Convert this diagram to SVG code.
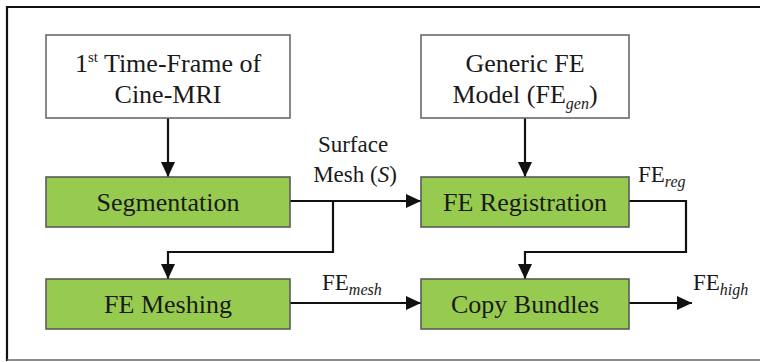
<svg xmlns="http://www.w3.org/2000/svg" width="760" height="362" viewBox="0 0 760 362">
<defs>
<style>
.box{fill:#ffffff;stroke:#6a6a6a;stroke-width:1.6}
.g{fill:#97cb4f;stroke:#5a5a5a;stroke-width:1.6}
.t{font-family:"Liberation Serif","Times New Roman",serif;font-size:26px;fill:#1a1a1a;text-anchor:middle}
.l{font-family:"Liberation Serif","Times New Roman",serif;font-size:23px;fill:#1a1a1a}
.sub{font-style:italic;font-size:16px}
.c{fill:none;stroke:#111;stroke-width:2.2}
</style>
<marker id="ah" markerUnits="userSpaceOnUse" markerWidth="16" markerHeight="14" refX="15" refY="7" orient="auto">
<path d="M0,0 L15,7 L0,14 Z" fill="#111"/>
</marker>
</defs>
<rect x="0" y="0" width="760" height="362" fill="#ffffff"/>
<path d="M7,361 L7,7 L760,7" fill="none" stroke="#111" stroke-width="2.2"/>
<line x1="7" y1="360" x2="760" y2="360" stroke="#666" stroke-width="1.5"/>

<g id="connectors">
<line class="c" x1="168" y1="118" x2="168" y2="177" marker-end="url(#ah)"/>
<line class="c" x1="525" y1="118" x2="525" y2="177" marker-end="url(#ah)"/>
<line class="c" x1="290" y1="201" x2="421" y2="201" marker-end="url(#ah)"/>
<polyline class="c" points="333,201 333,252 168,252 168,279" marker-end="url(#ah)"/>
<polyline class="c" points="629,201 686,201 686,252 525,252 525,279" marker-end="url(#ah)"/>
<line class="c" x1="290" y1="303" x2="421" y2="303" marker-end="url(#ah)"/>
<line class="c" x1="629" y1="303" x2="692" y2="303" marker-end="url(#ah)"/>
</g>

<g id="cine-mri">
<rect class="box" x="46" y="35" width="244" height="83"/>
<text class="t" x="168" y="72">1<tspan font-size="15" dy="-10">st</tspan><tspan dy="10"> Time-Frame of</tspan></text>
<text class="t" x="168" y="103">Cine-MRI</text>
</g>

<g id="generic-fe">
<rect class="box" x="421" y="35" width="208" height="83"/>
<text class="t" x="525" y="72">Generic FE</text>
<text class="t" x="525" y="103">Model (FE<tspan class="sub" font-size="18" dy="6">gen</tspan><tspan dy="-6">)</tspan></text>
</g>

<g id="segmentation">
<rect class="g" x="46" y="177" width="244" height="50"/>
<text class="t" x="168" y="211">Segmentation</text>
</g>

<g id="fe-registration">
<rect class="g" x="421" y="177" width="208" height="50"/>
<text class="t" x="525" y="211">FE Registration</text>
</g>

<g id="fe-meshing">
<rect class="g" x="46" y="279" width="244" height="50"/>
<text class="t" x="168" y="313">FE Meshing</text>
</g>

<g id="copy-bundles">
<rect class="g" x="421" y="279" width="208" height="50"/>
<text class="t" x="525" y="313">Copy Bundles</text>
</g>

<g id="labels">
<text class="l" x="353" y="152" text-anchor="middle">Surface</text>
<text class="l" x="355" y="182" text-anchor="middle">Mesh (<tspan font-style="italic">S</tspan>)</text>
<text class="l" x="638" y="182">FE<tspan class="sub" dy="5">reg</tspan></text>
<text class="l" x="322" y="290">FE<tspan class="sub" dy="5">mesh</tspan></text>
<text class="l" x="693" y="290">FE<tspan class="sub" dy="5">high</tspan></text>
</g>
</svg>
